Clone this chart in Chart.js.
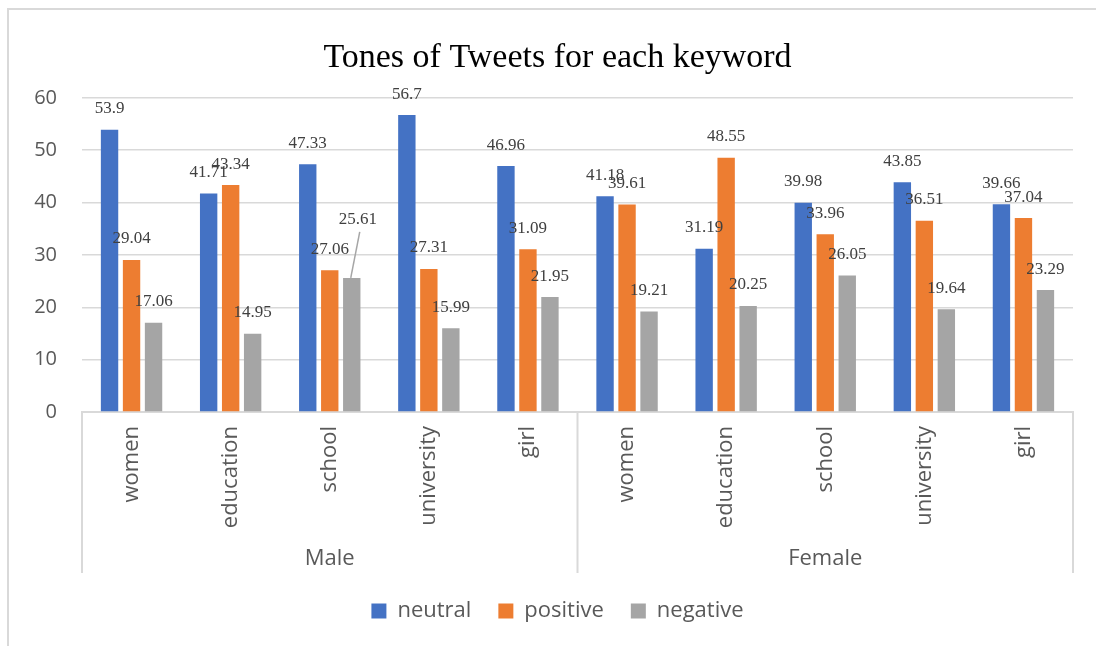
<!DOCTYPE html>
<html>
<head>
<meta charset="utf-8">
<script src="https://cdn.jsdelivr.net/npm/chart.js@4.4.1/dist/chart.umd.min.js"></script>
<style>
  html, body { margin: 0; padding: 0; background: #fff; }
  #wrap { width: 1096px; height: 646px; }
</style>
</head>
<body>
<div id="wrap"><canvas id="tonesChart" width="1096" height="646"></canvas></div>
<script>
// Tones of Tweets for each keyword
const keywords = ['women', 'education', 'school', 'university', 'girl'];
const groups = ['Male', 'Female'];
const seriesNames = ['neutral', 'positive', 'negative'];
const neutral = [53.9, 41.71, 47.33, 56.7, 46.96, 41.18, 31.19, 39.98, 43.85, 39.66];
const positive = [29.04, 43.34, 27.06, 27.31, 31.09, 39.61, 48.55, 33.96, 36.51, 37.04];
const negative = [17.06, 14.95, 25.61, 15.99, 21.95, 19.21, 20.25, 26.05, 19.64, 23.29];
const yTicks = [0, 10, 20, 30, 40, 50, 60];

const labels = groups.flatMap(() => keywords);
const colors = ['#4472C4', '#ED7D31', '#A5A5A5'];
const SANS = "'Open Sans', 'Noto Sans', sans-serif";
const SERIF = "'Liberation Serif', 'DejaVu Serif', serif";

// frame + white background
const framePlugin = {
    id: 'frame',
    afterLayout(chart) {
        // title and legend sit a bit right of the canvas centre
        if (chart.titleBlock) chart.titleBlock.left = 42;
        if (chart.legend) chart.legend.left = 42;
    },
    beforeDraw(chart) {
        const ctx = chart.ctx;
        ctx.save();
        ctx.fillStyle = '#fff';
        ctx.fillRect(0, 0, chart.width, chart.height);
        ctx.strokeStyle = '#d9d9d9';
        ctx.lineWidth = 2;
        ctx.beginPath();
        ctx.moveTo(8, chart.height);
        ctx.lineTo(8, 9);
        ctx.lineTo(chart.width, 9);
        ctx.stroke();
        ctx.restore();
    }
};

// group separators and group names under the keyword labels
const groupAxisPlugin = {
    id: 'groupAxis',
    afterDraw(chart) {
        const ctx = chart.ctx;
        const xs = chart.scales.x;
        const per = keywords.length;
        const edges = [xs.left];
        for (let g = 1; g < groups.length; g++) {
            edges.push((xs.getPixelForTick(g * per - 1) + xs.getPixelForTick(g * per)) / 2);
        }
        edges.push(xs.right);
        ctx.save();
        ctx.strokeStyle = '#d9d9d9';
        ctx.lineWidth = 2;
        edges.forEach(x => {
            ctx.beginPath();
            ctx.moveTo(x, xs.top);
            ctx.lineTo(x, xs.bottom);
            ctx.stroke();
        });
        ctx.fillStyle = '#595959';
        ctx.font = '22px ' + SANS;
        ctx.textAlign = 'center';
        ctx.textBaseline = 'middle';
        groups.forEach((g, i) => {
            ctx.fillText(g, (edges[i] + edges[i + 1]) / 2, xs.bottom - 14);
        });
        ctx.restore();
    }
};

// value labels above each bar
const valueLabelPlugin = {
    id: 'valueLabels',
    afterDatasetsDraw(chart, args, opts) {
        const ctx = chart.ctx;
        ctx.save();
        ctx.fillStyle = '#404040';
        ctx.font = '17px ' + SERIF;
        ctx.textAlign = 'center';
        ctx.textBaseline = 'middle';
        chart.data.datasets.forEach((ds, di) => {
            chart.getDatasetMeta(di).data.forEach((bar, i) => {
                const moved = opts.moved[di + '-' + i];
                let x = bar.x, y = bar.y - 21;
                if (moved) {
                    x = bar.x + moved.dx;
                    y = bar.y + moved.dy;
                    ctx.strokeStyle = '#a6a6a6';
                    ctx.lineWidth = 1.5;
                    ctx.beginPath();
                    ctx.moveTo(x + 2, y + 12);
                    ctx.lineTo(bar.x - 1, bar.y);
                    ctx.stroke();
                }
                ctx.fillText(String(ds.data[i]), x, y);
            });
        });
        ctx.restore();
    }
};

new Chart(document.getElementById('tonesChart'), {
    type: 'bar',
    data: {
        labels: labels,
        datasets: [
            { label: seriesNames[0], data: neutral, backgroundColor: colors[0] },
            { label: seriesNames[1], data: positive, backgroundColor: colors[1] },
            { label: seriesNames[2], data: negative, backgroundColor: colors[2] }
        ]
    },
    options: {
        responsive: false,
        animation: false,
        devicePixelRatio: 1,
        layout: { padding: { top: 10, right: 23, bottom: 14, left: 0 } },
        datasets: {
            bar: { categoryPercentage: 0.666, barPercentage: 0.79 }
        },
        scales: {
            x: {
                grid: { display: false, drawTicks: false },
                border: { display: true, color: '#d9d9d9', width: 2 },
                ticks: {
                    color: '#595959',
                    font: { family: SANS, size: 22 },
                    minRotation: 90,
                    maxRotation: 90,
                    autoSkip: false,
                    padding: 14
                },
                afterFit(scale) { scale.height = 161; }
            },
            y: {
                min: 0,
                max: 60,
                afterBuildTicks(scale) { scale.ticks = yTicks.map(v => ({ value: v })); },
                grid: { color: '#d9d9d9', lineWidth: 1.5, drawTicks: false },
                border: { display: false },
                ticks: {
                    color: '#595959',
                    font: { family: SANS, size: 20 },
                    padding: 25
                },
                afterFit(scale) { scale.width = 82; }
            }
        },
        plugins: {
            title: {
                display: true,
                text: 'Tones of Tweets for each keyword',
                color: '#000',
                font: { family: SERIF, size: 34, weight: 'normal' },
                padding: { top: 28, bottom: 19 }
            },
            legend: {
                position: 'bottom',
                labels: {
                    color: '#595959',
                    font: { family: SANS, size: 22 },
                    boxWidth: 15,
                    boxHeight: 15,
                    padding: 27
                }
            },
            tooltip: { enabled: false },
            valueLabels: { moved: { '2-2': { dx: 6, dy: -58 } } }
        }
    },
    plugins: [framePlugin, groupAxisPlugin, valueLabelPlugin]
});
</script>
</body>
</html>
